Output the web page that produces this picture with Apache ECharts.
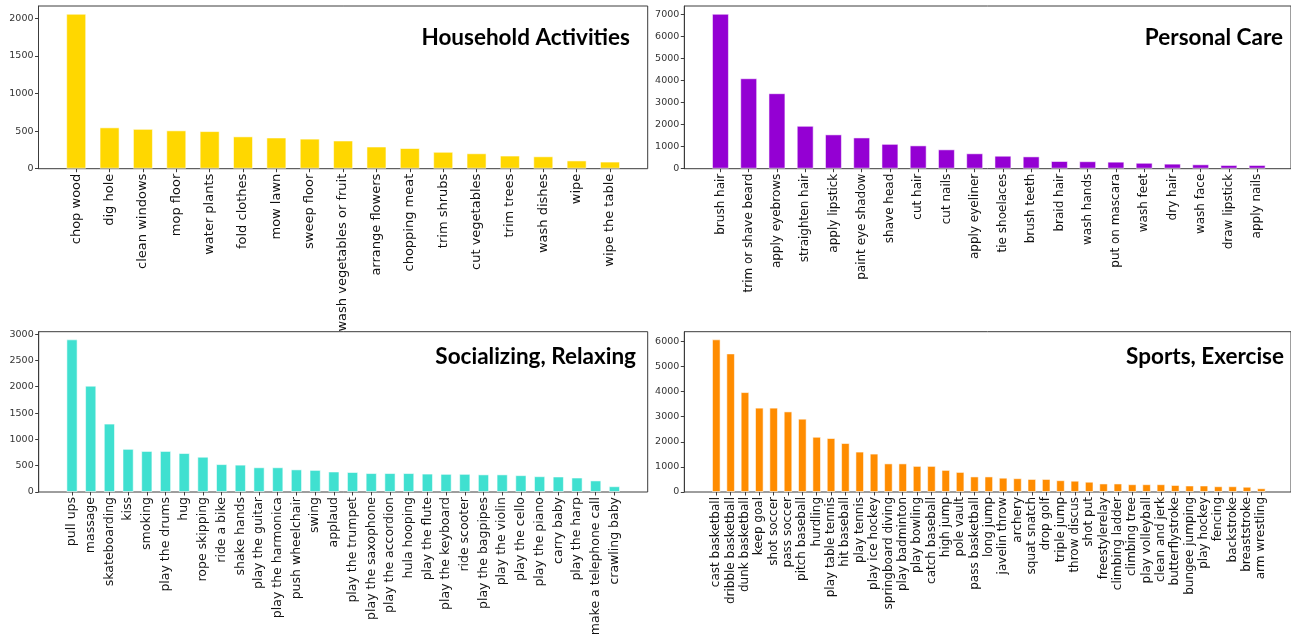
<!DOCTYPE html>
<html>
<head>
<meta charset="utf-8">
<script src="https://cdn.jsdelivr.net/npm/echarts@6/dist/echarts.min.js"></script>
<style>
  html, body { margin: 0; padding: 0; background: #fff; }
  #main { width: 1291px; height: 641px; }
</style>
</head>
<body>
<div id="main"></div>
<script>
const chartDom = document.getElementById('main');
const myChart = echarts.init(chartDom);

// Household Activities
const householdNames = ['chop wood', 'dig hole', 'clean windows', 'mop floor', 'water plants', 'fold clothes',
    'mow lawn', 'sweep floor', 'wash vegetables or fruit', 'arrange flowers', 'chopping meat', 'trim shrubs',
    'cut vegetables', 'trim trees', 'wash dishes', 'wipe', 'wipe the table'];
const householdValues = [2060, 550, 530, 510, 500, 430, 415, 400, 375, 295, 275, 225, 205, 175, 165, 110, 95];

// Personal Care
const personalNames = ['brush hair', 'trim or shave beard', 'apply eyebrows', 'straighten hair', 'apply lipstick',
    'paint eye shadow', 'shave head', 'cut hair', 'cut nails', 'apply eyeliner', 'tie shoelaces', 'brush teeth',
    'braid hair', 'wash hands', 'put on mascara', 'wash feet', 'dry hair', 'wash face', 'draw lipstick', 'apply nails'];
const personalValues = [7040, 4110, 3430, 1950, 1560, 1420, 1130, 1060, 880, 700, 590, 560, 350, 340, 320, 270, 230, 200, 170, 170];

// Socializing, Relaxing
const socialNames = ['pull ups', 'massage', 'skateboarding', 'kiss', 'smoking', 'play the drums', 'hug',
    'rope skipping', 'ride a bike', 'shake hands', 'play the guitar', 'play the harmonica', 'push wheelchair',
    'swing', 'applaud', 'play the trumpet', 'play the saxophone', 'play the accordion', 'hula hooping',
    'play the flute', 'play the keyboard', 'ride scooter', 'play the bagpipes', 'play the violin', 'play the cello',
    'play the piano', 'carry baby', 'play the harp', 'make a telephone call', 'crawling baby'];
const socialValues = [2900, 2020, 1300, 820, 780, 780, 740, 670, 530, 520, 470, 470, 430, 420, 390, 380, 360, 360,
    360, 350, 345, 345, 335, 335, 320, 300, 295, 275, 220, 110];

// Sports, Exercise
const sportsNames = ['cast basketball', 'dribble basketball', 'dunk basketball', 'keep goal', 'shot soccer',
    'pass soccer', 'pitch baseball', 'hurdling', 'play table tennis', 'hit baseball', 'play tennis',
    'play ice hockey', 'springboard diving', 'play badminton', 'play bowling', 'catch baseball', 'high jump',
    'pole vault', 'pass basketball', 'long jump', 'javelin throw', 'archery', 'squat snatch', 'drop golf',
    'triple jump', 'throw discus', 'shot put', 'freestylerelay', 'climbing ladder', 'climbing tree',
    'play volleyball', 'clean and jerk', 'butterflystroke', 'bungee jumping', 'play hockey', 'fencing',
    'backstroke', 'breaststroke', 'arm wrestling'];
const sportsValues = [6080, 5520, 3980, 3360, 3360, 3210, 2920, 2200, 2150, 1950, 1610, 1530, 1140, 1140, 1040,
    1040, 880, 800, 620, 620, 570, 550, 520, 520, 470, 450, 410, 340, 340, 310, 310, 310, 280, 260, 260, 230,
    230, 210, 150];

// layout per panel (pixel boxes match the matplotlib axes)
const panels = [
    { title: 'Household Activities', names: householdNames, values: householdValues, color: '#FFD700',
      step: 500, labelSize: 13, box: [38.5, 6, 609.2, 162.7], titlePos: { right: 661, top: 26 } },
    { title: 'Personal Care', names: personalNames, values: personalValues, color: '#9400D3',
      step: 1000, labelSize: 12, box: [684.3, 6, 609, 162.7], titlePos: { right: 8, top: 26 } },
    { title: 'Socializing, Relaxing', names: socialNames, values: socialValues, color: '#40E0D0',
      step: 500, labelSize: 12.5, box: [38.7, 331.7, 609, 160.3], titlePos: { right: 655, top: 345 } },
    { title: 'Sports, Exercise', names: sportsNames, values: sportsValues, color: '#FF8C00',
      step: 1000, labelSize: 12, box: [684.3, 331.7, 609, 160.3], titlePos: { right: 7, top: 345 } }
];

const lineColor = '#3c3c3c';
const grid = [], xAxis = [], yAxis = [], series = [], title = [];

panels.forEach((p) => {
    const n = p.names.length;
    // matplotlib-like 5% margins around the bars (bar width 0.6)
    const pad = 0.3 + 0.05 * (n - 0.4);
    const unit = p.box[2] / (n - 1 + 2 * pad);
    const inset = (pad - 0.5) * unit;
    const top = Math.max(...p.values) * 1.05;

    // frame grid: just draws the axes box
    const frameIndex = grid.length;
    grid.push({
        left: p.box[0], top: p.box[1], width: p.box[2], height: p.box[3],
        show: true, borderColor: lineColor, borderWidth: 1, backgroundColor: '#fff'
    });
    xAxis.push({ gridIndex: frameIndex, type: 'value', show: false });
    yAxis.push({ gridIndex: frameIndex, type: 'value', show: false });

    // data grid, inset so the category bands sit where matplotlib puts the bars
    const dataIndex = grid.length;
    grid.push({ left: p.box[0] + inset, top: p.box[1], width: n * unit, height: p.box[3] });
    xAxis.push({
        gridIndex: dataIndex,
        type: 'category',
        data: p.names,
        axisLine: { show: false },
        axisTick: { show: true, alignWithLabel: true, length: 3.5, lineStyle: { color: lineColor } },
        axisLabel: {
            interval: 0,
            rotate: 90,
            margin: 5,
            fontFamily: 'DejaVu Sans',
            fontSize: p.labelSize,
            color: '#111'
        }
    });
    yAxis.push({
        gridIndex: dataIndex,
        type: 'value',
        min: 0,
        max: top,
        interval: p.step,
        offset: inset,
        splitLine: { show: false },
        axisLine: { show: true, lineStyle: { color: lineColor, width: 1 } },
        axisTick: { show: true, length: 3.5, lineStyle: { color: lineColor } },
        axisLabel: {
            showMaxLabel: false,
            margin: 5,
            formatter: v => String(v),
            fontFamily: 'DejaVu Sans',
            fontSize: 9.5,
            color: '#333'
        }
    });
    series.push({
        type: 'bar',
        xAxisIndex: dataIndex,
        yAxisIndex: dataIndex,
        barWidth: '60%',
        data: p.values,
        itemStyle: { color: p.color, borderColor: 'rgba(255,255,255,0.55)', borderWidth: 1 }
    });
    title.push({
        text: p.title,
        right: p.titlePos.right,
        top: p.titlePos.top,
        padding: 0,
        textStyle: { fontFamily: 'Lato', fontWeight: 'bold', fontSize: 22.5, lineHeight: 24, color: '#000' }
    });
});

const option = {
    animation: false,
    backgroundColor: '#fff',
    title,
    grid,
    xAxis,
    yAxis,
    series
};

myChart.setOption(option);
window.onresize = () => myChart.resize();
</script>
</body>
</html>
